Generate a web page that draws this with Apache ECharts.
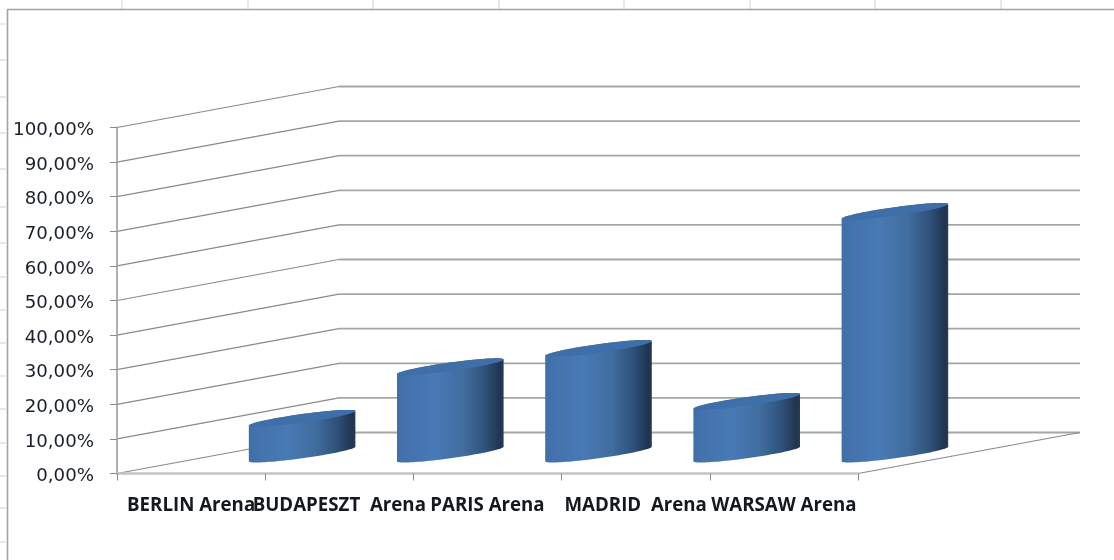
<!DOCTYPE html>
<html>
<head>
<meta charset="utf-8">
<style>html,body{margin:0;padding:0;background:#fff}#chart{width:1114px;height:560px}</style>
<script src="https://cdn.jsdelivr.net/npm/echarts@6/dist/echarts.min.js"></script>
</head>
<body>
<div id="chart"></div>
<script>
// Arena occupancy shares, percent
const arenas = ['BERLIN Arena', 'BUDAPESZT  Arena', 'PARIS Arena', 'MADRID  Arena', 'WARSAW Arena'];
const shares = [10.3, 25.2, 30.5, 15.2, 70.1];
const percentTicks = [0, 10, 20, 30, 40, 50, 60, 70, 80, 90, 100];

// Spreadsheet cell lines showing around the chart frame
const sheetColumns = [122, 248, 373, 499, 624, 750, 875, 1001];
const sheetRows = [24, 60, 97, 133, 169, 207, 243, 277, 310, 343, 376, 409, 443, 476, 508, 542];

// Oblique projection of the chart's depth axis
const DEPTH_X = 222;
const DEPTH_Y = -41;
const FRONT_RATIO = 27 / 148.2;   // cylinder half width along the front axis, per band
const DEPTH_RATIO = 0.207;        // cylinder half depth, as a share of the full depth
const FLOOR_DROP = 1;             // cylinders sit slightly in front of the floor's mid-line

function wallLines(params, api) {
  const cs = params.coordSys;
  const p = api.coord([0, api.value(0)]);
  const x0 = cs.x, y = p[1];
  const children = [{
    type: 'polyline', silent: true,
    shape: { points: [[x0 + DEPTH_X, y + DEPTH_Y], [x0 + cs.width + DEPTH_X, y + DEPTH_Y]] },
    style: { fill: null, stroke: '#a6a6a6', lineWidth: 1.8 }
  }, {
    type: 'line', silent: true,
    shape: { x1: x0, y1: y, x2: x0 + DEPTH_X, y2: y + DEPTH_Y },
    style: { stroke: '#8a8a8a', lineWidth: 1.2 }
  }];
  if (api.value(0) === 0) {
    children.push({
      type: 'line', silent: true,
      shape: { x1: x0 + cs.width, y1: y, x2: x0 + cs.width + DEPTH_X, y2: y + DEPTH_Y },
      style: { stroke: '#8a8a8a', lineWidth: 1.2 }
    });
  }
  return { type: 'group', children };
}

function cylinder(params, api) {
  const band = api.size([1, 0])[0];
  const base = api.coord([api.value(0), 0]);
  const top = api.coord([api.value(0), api.value(1)]);
  const cx = base[0] + DEPTH_X / 2;
  const yBase = base[1] + DEPTH_Y / 2 + FLOOR_DROP;
  const yTop = top[1] + DEPTH_Y / 2 + FLOOR_DROP;
  const ux = band * FRONT_RATIO;
  const vx = DEPTH_X * DEPTH_RATIO;
  const vy = DEPTH_Y * DEPTH_RATIO;
  const start = Math.atan2(vx, ux);   // parameter of the rightmost point on the rim
  const rim = (cy, t) => [cx + ux * Math.cos(t) + vx * Math.sin(t), cy + vy * Math.sin(t)];
  const arc = (cy, from, to) => {
    const pts = [];
    for (let i = 0; i <= 48; i++) pts.push(rim(cy, from + (to - from) * i / 48));
    return pts;
  };
  // Side wall: front half of the base rim, then back half of the top rim
  const body = arc(yBase, start - Math.PI, start).concat(arc(yTop, start, start + Math.PI));
  const cap = arc(yTop, 0, Math.PI * 2);
  return {
    type: 'group',
    children: [{
      type: 'polygon', silent: true,
      shape: { points: body },
      style: {
        fill: new echarts.graphic.LinearGradient(0, 0, 1, 0, [
          { offset: 0, color: '#3f70aa' },
          { offset: 0.08, color: '#4372ac' },
          { offset: 0.36, color: '#487ab5' },
          { offset: 0.62, color: '#416d9f' },
          { offset: 0.82, color: '#30527c' },
          { offset: 0.97, color: '#1f344f' },
          { offset: 1, color: '#283c54' }
        ])
      }
    }, {
      type: 'polygon', silent: true,
      shape: { points: cap },
      style: { fill: '#3f6fa9' }
    }]
  };
}

const sheetGraphics = [
  ...sheetColumns.map(x => ({
    type: 'line', silent: true, z: 0,
    shape: { x1: x, y1: 0, x2: x, y2: 9 },
    style: { stroke: '#dde1ee', lineWidth: 1.5 }
  })),
  ...sheetRows.map(y => ({
    type: 'line', silent: true, z: 0,
    shape: { x1: 0, y1: y, x2: 6, y2: y },
    style: { stroke: '#dde1ee', lineWidth: 1.5 }
  })),
  {
    type: 'polyline', silent: true, z: 0,
    shape: { points: [[7.5, 560], [7.5, 9.5], [1114, 9.5]] },
    style: { fill: null, stroke: '#a3a3a3', lineWidth: 1.6 }
  }
];

const chart = echarts.init(document.getElementById('chart'), null, { renderer: 'canvas' });
chart.setOption({
  animation: false,
  backgroundColor: '#ffffff',
  graphic: sheetGraphics,
  grid: { left: 117, top: 127.5, width: 741, height: 346 },
  xAxis: {
    type: 'category',
    data: arenas,
    boundaryGap: true,
    z: 3,
    axisLine: { lineStyle: { color: '#c4c4c4', width: 2.5 } },
    axisTick: { show: true, length: 7, alignWithLabel: false, lineStyle: { color: '#8a8a8a', width: 1 } },
    splitLine: { show: false },
    axisLabel: {
      interval: 0, hideOverlap: false, margin: 23,
      color: '#14181f', fontFamily: 'Open Sans', fontWeight: 'bold', fontSize: 18.7
    }
  },
  yAxis: {
    type: 'value',
    min: 0, max: 100, interval: 10,
    z: 3,
    axisLine: { show: true, lineStyle: { color: '#a8a8a8', width: 1.8 } },
    axisTick: { show: true, length: 7, lineStyle: { color: '#8a8a8a', width: 1 } },
    splitLine: { show: false },
    axisLabel: {
      margin: 23,
      formatter: v => '{pct|' + v.toFixed(2).replace('.', ',') + '%}',
      rich: {
        pct: {
          padding: [6, 0, 0, 0],
          color: '#1a2029', fontFamily: 'DejaVu Sans', fontSize: 18.2
        }
      }
    }
  },
  series: [{
    type: 'custom',
    name: 'Walls',
    coordinateSystem: 'cartesian2d',
    clip: false,
    silent: true,
    z: 1,
    encode: { y: 0 },
    data: percentTicks.map(v => [v]),
    renderItem: wallLines
  }, {
    type: 'custom',
    name: 'Share',
    coordinateSystem: 'cartesian2d',
    clip: false,
    z: 5,
    encode: { x: 0, y: 1 },
    data: shares.map((v, i) => [i, v]),
    renderItem: cylinder
  }]
});
</script>
</body>
</html>
